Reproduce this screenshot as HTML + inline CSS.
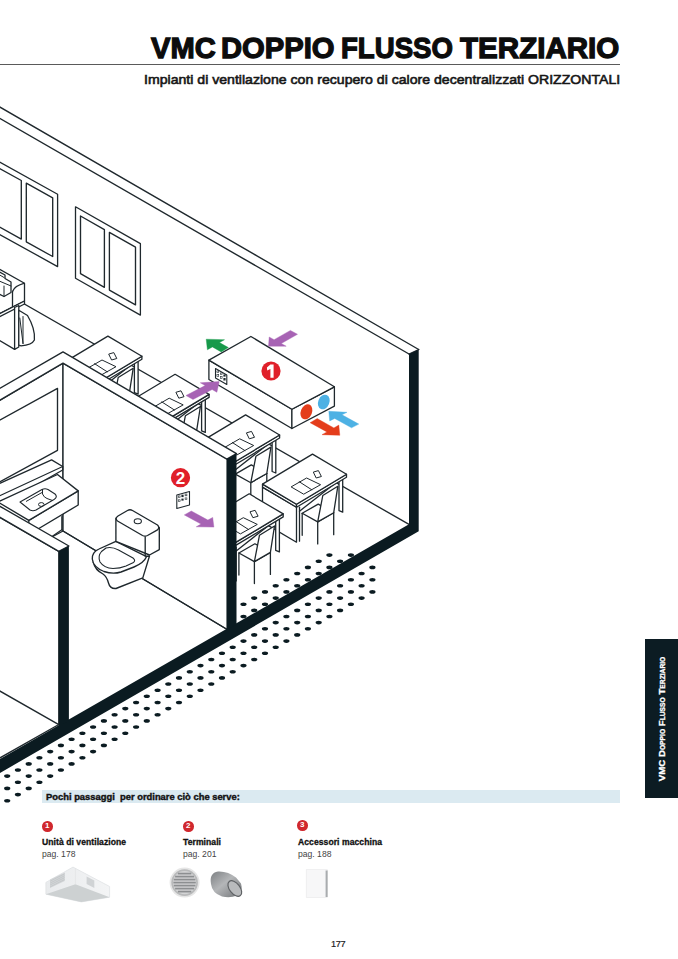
<!DOCTYPE html>
<html><head><meta charset="utf-8"><style>
html,body{margin:0;padding:0;background:#fff;}
body{width:678px;height:959px;position:relative;overflow:hidden;font-family:"Liberation Sans",sans-serif;color:#111;}
.abs{position:absolute;white-space:nowrap;}
#title{}
.tw{top:30.5px;font-size:30.2px;font-weight:bold;line-height:34px;color:#0c0c0c;-webkit-text-stroke:1.3px #0c0c0c;transform-origin:0 0;}
#rule{left:0;top:64px;width:620px;height:1px;background:#5a5a5a;}
#sub{left:144px;top:71.5px;font-size:13.4px;font-weight:normal;-webkit-text-stroke:0.6px #161616;line-height:16px;color:#161616;transform-origin:0 0;transform:scaleX(1.053);}
#bar{left:42px;top:790px;width:578px;height:13px;background:#dbeaf1;}
#bartxt{left:46px;top:791px;font-size:9.4px;font-weight:bold;line-height:11px;-webkit-text-stroke:0.4px #111;}
.num{position:absolute;width:10.5px;height:10.5px;border-radius:50%;background:#d0282e;color:#fff;font-size:8px;font-weight:bold;text-align:center;line-height:10px;}
.it{position:absolute;font-size:8.6px;font-weight:bold;line-height:10px;white-space:nowrap;-webkit-text-stroke:0.3px #111;letter-spacing:0.05px;}
.pg{position:absolute;font-size:8.6px;line-height:10px;color:#444;white-space:nowrap;}
#tab{left:645px;top:639px;width:33px;height:159px;background:#0c1c23;}
#tabtxt{position:absolute;left:17px;top:79.5px;transform:translate(-50%,-50%) rotate(-90deg);color:#fff;font-weight:bold;font-size:9.7px;line-height:11px;white-space:nowrap;-webkit-text-stroke:0.3px #fff;}
#tabtxt small{font-size:6.7px;}
#pnum{left:331px;top:938.5px;font-size:9.2px;color:#222;letter-spacing:-0.4px;-webkit-text-stroke:0.2px #222;}
</style></head><body>
<svg class="abs" style="left:0;top:0" width="678" height="959" viewBox="0 0 678 959">
<line x1="-2.0" y1="106.0" x2="418.7" y2="349.5" stroke="#1f282d" stroke-width="1.4" stroke-linecap="round"/>
<line x1="-2.0" y1="117.4" x2="409.0" y2="354.0" stroke="#1f282d" stroke-width="1.4" stroke-linecap="round"/>
<line x1="409.0" y1="354.0" x2="418.7" y2="349.5" stroke="#1f282d" stroke-width="1.3" stroke-linecap="round"/>
<polygon points="-8.0,157.8 57.6,194.2 57.6,266.6 -8.0,230.2" fill="none" stroke="#1f282d" stroke-width="1.3" stroke-linejoin="round"/>
<polygon points="-3.0,167.0 21.3,180.5 21.3,239.1 -3.0,225.6" fill="none" stroke="#1f282d" stroke-width="1.35" stroke-linejoin="round"/>
<polygon points="26.3,183.2 52.7,197.9 52.7,256.5 26.3,241.8" fill="none" stroke="#1f282d" stroke-width="1.35" stroke-linejoin="round"/>
<polygon points="75.5,206.8 140.4,243.6 140.4,315.1 75.5,278.3" fill="none" stroke="#1f282d" stroke-width="1.3" stroke-linejoin="round"/>
<polygon points="80.5,216.0 104.4,229.6 104.4,287.3 80.5,273.7" fill="none" stroke="#1f282d" stroke-width="1.35" stroke-linejoin="round"/>
<polygon points="109.4,232.4 135.5,247.2 135.5,304.9 109.4,290.1" fill="none" stroke="#1f282d" stroke-width="1.35" stroke-linejoin="round"/>
<line x1="0.0" y1="290.0" x2="409.0" y2="524.4" stroke="#1f282d" stroke-width="1.35" stroke-linecap="round"/>
<polygon points="-2.0,268.5 24.5,283.2 24.5,301.0 12.5,307.0 -2.0,314.5" fill="#fff" stroke="#1f282d" stroke-width="1.3" stroke-linejoin="round"/>
<line x1="12.5" y1="291.5" x2="12.5" y2="307.0" stroke="#1f282d" stroke-width="1.3" stroke-linecap="round"/>
<path d="M12.5,291.5 Q14.5,286 24.5,283.2" fill="none" stroke="#1f282d" stroke-width="1.3" stroke-linejoin="round"/>
<polygon points="-2.0,271.0 5.0,275.0 5.0,278.5 11.0,282.0 11.0,292.5 4.0,296.5 -2.0,293.5" fill="#fff" stroke="#1f282d" stroke-width="1.3" stroke-linejoin="round"/>
<line x1="-2.0" y1="280.5" x2="11.0" y2="286.0" stroke="#1f282d" stroke-width="1.0" stroke-linecap="round"/>
<line x1="4.0" y1="296.5" x2="4.0" y2="286.0" stroke="#1f282d" stroke-width="1.0" stroke-linecap="round"/>
<line x1="-2.0" y1="274.0" x2="4.0" y2="277.5" stroke="#1f282d" stroke-width="1.0" stroke-linecap="round"/>
<polygon points="-2.0,314.5 24.5,301.0 24.5,304.0 -2.0,317.5" fill="#fff" stroke="#1f282d" stroke-width="1.3" stroke-linejoin="round"/>
<polygon points="14.6,307.5 18.8,305.5 18.8,347.0 14.6,349.4" fill="#fff" stroke="#1f282d" stroke-width="1.3" stroke-linejoin="round"/>
<line x1="-2.0" y1="339.5" x2="14.6" y2="349.4" stroke="#1f282d" stroke-width="1.3" stroke-linecap="round"/>
<path d="M18.8,310.3 L27.5,315.5 Q35.5,329 34.4,340 Q32,345 21,345.8 L18.8,345 Z" fill="#fff" stroke="#1f282d" stroke-width="1.3" stroke-linejoin="round"/>
<line x1="19.8" y1="318.0" x2="23.0" y2="343.5" stroke="#1f282d" stroke-width="1.0" stroke-linecap="round"/>
<line x1="23.0" y1="316.5" x2="23.0" y2="343.5" stroke="#1f282d" stroke-width="1.0" stroke-linecap="round"/>
<polygon points="134.4,358.2 138.1,359.7 138.1,394.2 134.4,392.7" fill="#fff" stroke="#1f282d" stroke-width="1.3" stroke-linejoin="round"/>
<polygon points="57.9,369.1 91.9,389.2 91.9,424.2 57.9,404.1" fill="#fff" stroke="#1f282d" stroke-width="1.3" stroke-linejoin="round"/>
<line x1="94.9" y1="389.2" x2="94.9" y2="423.2" stroke="#1f282d" stroke-width="1.3" stroke-linecap="round"/>
<line x1="94.9" y1="393.2" x2="134.4" y2="362.2" stroke="#1f282d" stroke-width="1.3" stroke-linecap="round"/>
<line x1="97.6" y1="395.3" x2="97.6" y2="417.3" stroke="#1f282d" stroke-width="1.3" stroke-linecap="round"/>
<line x1="113.1" y1="403.9" x2="113.1" y2="425.9" stroke="#1f282d" stroke-width="1.3" stroke-linecap="round"/>
<line x1="129.1" y1="394.7" x2="129.1" y2="416.7" stroke="#1f282d" stroke-width="1.3" stroke-linecap="round"/>
<polygon points="97.6,395.3 113.6,386.1 129.1,394.7 113.1,403.9" fill="#fff" stroke="#1f282d" stroke-width="1.3" stroke-linejoin="round"/>
<polygon points="113.1,403.9 129.1,394.7 133.2,368.3 118.2,377.5" fill="#fff" stroke="#1f282d" stroke-width="1.3" stroke-linejoin="round"/>
<polygon points="57.9,366.1 91.9,386.2 91.9,389.2 57.9,369.1" fill="#fff" stroke="#1f282d" stroke-width="1.3" stroke-linejoin="round"/>
<polygon points="91.9,386.2 141.9,356.2 141.9,359.2 91.9,389.2" fill="#fff" stroke="#1f282d" stroke-width="1.3" stroke-linejoin="round"/>
<polygon points="57.9,366.1 107.9,336.1 141.9,356.2 91.9,386.2" fill="#fff" stroke="#1f282d" stroke-width="1.3" stroke-linejoin="round"/>
<polygon points="86.5,368.9 102.0,360.0 116.0,366.7 99.1,376.2" fill="#fff" stroke="#1f282d" stroke-width="1.0" stroke-linejoin="round"/>
<line x1="94.6" y1="363.7" x2="107.2" y2="371.8" stroke="#1f282d" stroke-width="1.0" stroke-linecap="round"/>
<polygon points="108.7,354.1 113.8,352.6 116.8,358.5 111.6,360.0" fill="#fff" stroke="#1f282d" stroke-width="1.0" stroke-linejoin="round"/>
<polygon points="201.6,396.4 205.3,397.9 205.3,432.4 201.6,430.9" fill="#fff" stroke="#1f282d" stroke-width="1.3" stroke-linejoin="round"/>
<polygon points="125.1,407.3 159.1,427.4 159.1,462.4 125.1,442.3" fill="#fff" stroke="#1f282d" stroke-width="1.3" stroke-linejoin="round"/>
<line x1="162.1" y1="427.4" x2="162.1" y2="461.4" stroke="#1f282d" stroke-width="1.3" stroke-linecap="round"/>
<line x1="162.1" y1="431.4" x2="201.6" y2="400.4" stroke="#1f282d" stroke-width="1.3" stroke-linecap="round"/>
<line x1="164.8" y1="433.5" x2="164.8" y2="455.5" stroke="#1f282d" stroke-width="1.3" stroke-linecap="round"/>
<line x1="180.3" y1="442.1" x2="180.3" y2="464.1" stroke="#1f282d" stroke-width="1.3" stroke-linecap="round"/>
<line x1="196.3" y1="432.9" x2="196.3" y2="454.9" stroke="#1f282d" stroke-width="1.3" stroke-linecap="round"/>
<polygon points="164.8,433.5 180.8,424.3 196.3,432.9 180.3,442.1" fill="#fff" stroke="#1f282d" stroke-width="1.3" stroke-linejoin="round"/>
<polygon points="180.3,442.1 196.3,432.9 200.4,406.5 185.4,415.7" fill="#fff" stroke="#1f282d" stroke-width="1.3" stroke-linejoin="round"/>
<polygon points="125.1,404.3 159.1,424.4 159.1,427.4 125.1,407.3" fill="#fff" stroke="#1f282d" stroke-width="1.3" stroke-linejoin="round"/>
<polygon points="159.1,424.4 209.1,394.4 209.1,397.4 159.1,427.4" fill="#fff" stroke="#1f282d" stroke-width="1.3" stroke-linejoin="round"/>
<polygon points="125.1,404.3 175.1,374.3 209.1,394.4 159.1,424.4" fill="#fff" stroke="#1f282d" stroke-width="1.3" stroke-linejoin="round"/>
<polygon points="153.7,407.1 169.2,398.2 183.2,404.9 166.3,414.4" fill="#fff" stroke="#1f282d" stroke-width="1.0" stroke-linejoin="round"/>
<line x1="161.8" y1="401.9" x2="174.4" y2="410.0" stroke="#1f282d" stroke-width="1.0" stroke-linecap="round"/>
<polygon points="175.9,392.3 181.0,390.8 184.0,396.7 178.8,398.2" fill="#fff" stroke="#1f282d" stroke-width="1.0" stroke-linejoin="round"/>
<polygon points="272.1,437.0 275.8,438.5 275.8,473.0 272.1,471.5" fill="#fff" stroke="#1f282d" stroke-width="1.3" stroke-linejoin="round"/>
<polygon points="195.6,447.9 229.6,468.0 229.6,503.0 195.6,482.9" fill="#fff" stroke="#1f282d" stroke-width="1.3" stroke-linejoin="round"/>
<line x1="232.6" y1="468.0" x2="232.6" y2="502.0" stroke="#1f282d" stroke-width="1.3" stroke-linecap="round"/>
<line x1="232.6" y1="472.0" x2="272.1" y2="441.0" stroke="#1f282d" stroke-width="1.3" stroke-linecap="round"/>
<line x1="235.3" y1="474.1" x2="235.3" y2="496.1" stroke="#1f282d" stroke-width="1.3" stroke-linecap="round"/>
<line x1="250.8" y1="482.7" x2="250.8" y2="504.7" stroke="#1f282d" stroke-width="1.3" stroke-linecap="round"/>
<line x1="266.8" y1="473.5" x2="266.8" y2="495.5" stroke="#1f282d" stroke-width="1.3" stroke-linecap="round"/>
<polygon points="235.3,474.1 251.3,464.9 266.8,473.5 250.8,482.7" fill="#fff" stroke="#1f282d" stroke-width="1.3" stroke-linejoin="round"/>
<polygon points="250.8,482.7 266.8,473.5 270.9,447.1 255.9,456.3" fill="#fff" stroke="#1f282d" stroke-width="1.3" stroke-linejoin="round"/>
<polygon points="195.6,444.9 229.6,465.0 229.6,468.0 195.6,447.9" fill="#fff" stroke="#1f282d" stroke-width="1.3" stroke-linejoin="round"/>
<polygon points="229.6,465.0 279.6,435.0 279.6,438.0 229.6,468.0" fill="#fff" stroke="#1f282d" stroke-width="1.3" stroke-linejoin="round"/>
<polygon points="195.6,444.9 245.6,414.9 279.6,435.0 229.6,465.0" fill="#fff" stroke="#1f282d" stroke-width="1.3" stroke-linejoin="round"/>
<polygon points="224.2,447.7 239.7,438.8 253.7,445.5 236.8,455.0" fill="#fff" stroke="#1f282d" stroke-width="1.0" stroke-linejoin="round"/>
<line x1="232.3" y1="442.5" x2="244.9" y2="450.6" stroke="#1f282d" stroke-width="1.0" stroke-linecap="round"/>
<polygon points="246.4,432.9 251.5,431.4 254.5,437.3 249.3,438.8" fill="#fff" stroke="#1f282d" stroke-width="1.0" stroke-linejoin="round"/>
<polygon points="339.0,476.2 342.7,477.7 342.7,512.2 339.0,510.7" fill="#fff" stroke="#1f282d" stroke-width="1.3" stroke-linejoin="round"/>
<polygon points="262.5,487.1 296.5,507.2 296.5,542.2 262.5,522.1" fill="#fff" stroke="#1f282d" stroke-width="1.3" stroke-linejoin="round"/>
<line x1="299.5" y1="507.2" x2="299.5" y2="541.2" stroke="#1f282d" stroke-width="1.3" stroke-linecap="round"/>
<line x1="299.5" y1="511.2" x2="339.0" y2="480.2" stroke="#1f282d" stroke-width="1.3" stroke-linecap="round"/>
<line x1="302.2" y1="513.3" x2="302.2" y2="535.3" stroke="#1f282d" stroke-width="1.3" stroke-linecap="round"/>
<line x1="317.7" y1="521.9" x2="317.7" y2="543.9" stroke="#1f282d" stroke-width="1.3" stroke-linecap="round"/>
<line x1="333.7" y1="512.7" x2="333.7" y2="534.7" stroke="#1f282d" stroke-width="1.3" stroke-linecap="round"/>
<polygon points="302.2,513.3 318.2,504.1 333.7,512.7 317.7,521.9" fill="#fff" stroke="#1f282d" stroke-width="1.3" stroke-linejoin="round"/>
<polygon points="317.7,521.9 333.7,512.7 337.8,486.3 322.8,495.5" fill="#fff" stroke="#1f282d" stroke-width="1.3" stroke-linejoin="round"/>
<polygon points="262.5,484.1 296.5,504.2 296.5,507.2 262.5,487.1" fill="#fff" stroke="#1f282d" stroke-width="1.3" stroke-linejoin="round"/>
<polygon points="296.5,504.2 346.5,474.2 346.5,477.2 296.5,507.2" fill="#fff" stroke="#1f282d" stroke-width="1.3" stroke-linejoin="round"/>
<polygon points="262.5,484.1 312.5,454.1 346.5,474.2 296.5,504.2" fill="#fff" stroke="#1f282d" stroke-width="1.3" stroke-linejoin="round"/>
<polygon points="291.1,486.9 306.6,478.0 320.6,484.7 303.7,494.2" fill="#fff" stroke="#1f282d" stroke-width="1.0" stroke-linejoin="round"/>
<line x1="299.2" y1="481.7" x2="311.8" y2="489.8" stroke="#1f282d" stroke-width="1.0" stroke-linecap="round"/>
<polygon points="313.3,472.1 318.4,470.6 321.4,476.5 316.2,478.0" fill="#fff" stroke="#1f282d" stroke-width="1.0" stroke-linejoin="round"/>
<polygon points="275.7,515.9 279.4,517.4 279.4,551.9 275.7,550.4" fill="#fff" stroke="#1f282d" stroke-width="1.3" stroke-linejoin="round"/>
<polygon points="199.2,526.8 233.2,546.9 233.2,581.9 199.2,561.8" fill="#fff" stroke="#1f282d" stroke-width="1.3" stroke-linejoin="round"/>
<line x1="236.2" y1="546.9" x2="236.2" y2="580.9" stroke="#1f282d" stroke-width="1.3" stroke-linecap="round"/>
<line x1="236.2" y1="550.9" x2="275.7" y2="519.9" stroke="#1f282d" stroke-width="1.3" stroke-linecap="round"/>
<line x1="238.9" y1="553.0" x2="238.9" y2="575.0" stroke="#1f282d" stroke-width="1.3" stroke-linecap="round"/>
<line x1="254.4" y1="561.6" x2="254.4" y2="583.6" stroke="#1f282d" stroke-width="1.3" stroke-linecap="round"/>
<line x1="270.4" y1="552.4" x2="270.4" y2="574.4" stroke="#1f282d" stroke-width="1.3" stroke-linecap="round"/>
<polygon points="238.9,553.0 254.9,543.8 270.4,552.4 254.4,561.6" fill="#fff" stroke="#1f282d" stroke-width="1.3" stroke-linejoin="round"/>
<polygon points="254.4,561.6 270.4,552.4 274.5,526.0 259.5,535.2" fill="#fff" stroke="#1f282d" stroke-width="1.3" stroke-linejoin="round"/>
<polygon points="199.2,523.8 233.2,543.9 233.2,546.9 199.2,526.8" fill="#fff" stroke="#1f282d" stroke-width="1.3" stroke-linejoin="round"/>
<polygon points="233.2,543.9 283.2,513.9 283.2,516.9 233.2,546.9" fill="#fff" stroke="#1f282d" stroke-width="1.3" stroke-linejoin="round"/>
<polygon points="199.2,523.8 249.2,493.8 283.2,513.9 233.2,543.9" fill="#fff" stroke="#1f282d" stroke-width="1.3" stroke-linejoin="round"/>
<polygon points="227.8,526.6 243.3,517.7 257.3,524.4 240.4,533.9" fill="#fff" stroke="#1f282d" stroke-width="1.0" stroke-linejoin="round"/>
<line x1="235.9" y1="521.4" x2="248.5" y2="529.5" stroke="#1f282d" stroke-width="1.0" stroke-linecap="round"/>
<polygon points="250.0,511.8 255.1,510.3 258.1,516.2 252.9,517.7" fill="#fff" stroke="#1f282d" stroke-width="1.0" stroke-linejoin="round"/>
<polygon points="208.9,360.1 291.9,409.2 291.9,428.5 208.9,379.5" fill="#fff" stroke="#1f282d" stroke-width="1.3" stroke-linejoin="round"/>
<polygon points="291.9,409.2 334.4,386.8 334.4,406.1 291.9,428.5" fill="#fff" stroke="#1f282d" stroke-width="1.3" stroke-linejoin="round"/>
<polygon points="208.9,360.1 250.9,336.5 334.4,386.8 291.9,409.2" fill="#fff" stroke="#1f282d" stroke-width="1.3" stroke-linejoin="round"/>
<polygon points="215.5,368.5 226.8,375.0 226.8,384.5 215.5,378.0" fill="#fff" stroke="#1f282d" stroke-width="1.1" stroke-linejoin="round"/>
<rect x="216.9" y="370.9" width="1.8" height="1.8" fill="none" stroke="#1f282d" stroke-width="0.6"/>
<rect x="216.9" y="374.5" width="1.8" height="1.8" fill="none" stroke="#1f282d" stroke-width="0.6"/>
<rect x="220.3" y="372.9" width="1.8" height="1.8" fill="none" stroke="#1f282d" stroke-width="0.6"/>
<rect x="220.3" y="376.5" width="1.8" height="1.8" fill="none" stroke="#1f282d" stroke-width="0.6"/>
<rect x="223.7" y="374.8" width="1.8" height="1.8" fill="none" stroke="#1f282d" stroke-width="0.6"/>
<rect x="223.7" y="378.4" width="1.8" height="1.8" fill="none" stroke="#1f282d" stroke-width="0.6"/>
<ellipse cx="306.4" cy="411.8" rx="5.6" ry="7.8" transform="rotate(22 306.4 411.8)" fill="#e43d1b"/>
<ellipse cx="323.8" cy="402" rx="5.6" ry="7.6" transform="rotate(22 323.8 402)" fill="#4db1e4"/>
<circle cx="271" cy="371" r="9.6" fill="#e0202a"/>
<path d="M270.4,364.6 L273.6,364.6 L273.6,377.8 L270.4,377.8 L270.4,368.9 L267.2,370.6 L266.9,367.6 Z" fill="#fff"/>
<polygon points="221.2,351.9 212.4,346.9 207.4,349.8 206.2,339.2 224.5,339.7 219.5,342.6 228.4,347.6" fill="#17994a" stroke="#17994a" stroke-width="0.4" stroke-linejoin="round"/>
<polygon points="290.4,330.4 274.1,339.7 269.2,337.0 268.5,346.2 286.2,346.2 281.3,343.5 297.5,334.3" fill="#a763b4" stroke="#a763b4" stroke-width="0.4" stroke-linejoin="round"/>
<polygon points="186.0,395.5 205.1,385.6 200.3,382.8 219.2,381.6 216.9,392.3 212.1,389.5 193.0,399.5" fill="#a763b4" stroke="#a763b4" stroke-width="0.4" stroke-linejoin="round"/>
<polygon points="310.1,422.7 326.9,431.9 322.0,434.7 339.8,435.3 338.8,425.1 333.9,427.9 317.2,418.6" fill="#e43d1b" stroke="#e43d1b" stroke-width="0.4" stroke-linejoin="round"/>
<polygon points="351.5,427.8 334.7,418.4 329.7,420.9 328.8,411.3 347.0,412.3 342.0,414.8 358.8,424.1" fill="#4db1e4" stroke="#4db1e4" stroke-width="0.4" stroke-linejoin="round"/>
<polygon points="-2.0,401.3 63.0,363.2 63.0,531.0 -2.0,566.0" fill="#fff" stroke="#1f282d" stroke-width="1.35" stroke-linejoin="round"/>
<polyline points="-2.0,421.0 57.5,388.4 57.5,450.3 -2.0,482.8" fill="none" stroke="#1f282d" stroke-width="1.35" stroke-linejoin="round" stroke-linecap="round"/>
<polygon points="63.0,363.2 227.2,458.9 227.2,629.5 63.0,531.0" fill="#fff" stroke="#1f282d" stroke-width="1.35" stroke-linejoin="round"/>
<polygon points="-2.0,389.5 63.0,351.9 236.5,453.7 226.8,459.1 63.0,363.2 -2.0,401.3" fill="#fff" stroke="#1f282d" stroke-width="1.35" stroke-linejoin="round"/>
<path d="M-2,484.2 L51.6,459.9 L62.7,466.5 L62.7,470 L10,500 Q3,503 -2,500 Z" fill="#fff" stroke="#1f282d" stroke-width="1.35" stroke-linejoin="round"/>
<line x1="-2.0" y1="496.5" x2="62.7" y2="466.5" stroke="#1f282d" stroke-width="1.1" stroke-linecap="round"/>
<polygon points="28.8,520.4 78.2,490.9 78.2,505.0 28.8,534.5" fill="#fff" stroke="#1f282d" stroke-width="1.35" stroke-linejoin="round"/>
<polygon points="-2.0,502.0 57.5,474.5 78.2,490.9 28.8,520.4" fill="#fff" stroke="#1f282d" stroke-width="1.35" stroke-linejoin="round"/>
<path d="M20,502 L42,489.5 Q45,488 48,489.5 L55,494 Q58,497 54,499.5 L36,510 Q33,511.5 30,510 Z" fill="#fff" stroke="#1f282d" stroke-width="1.1" stroke-linejoin="round"/>
<path d="M26,501.5 L42,492.5" fill="none" stroke="#1f282d" stroke-width="1.0" stroke-linejoin="round"/>
<path d="M42.5,489 L42.5,494 Q44,497.5 47,498.5 L52.5,500.5" fill="none" stroke="#1f282d" stroke-width="1.0" stroke-linejoin="round"/>
<ellipse cx="41.3" cy="504.5" rx="2.8" ry="1.9" fill="none" stroke="#1f282d" stroke-width="1"/>
<line x1="61.8" y1="516.5" x2="61.8" y2="529.8" stroke="#1f282d" stroke-width="1.2" stroke-linecap="round"/>
<line x1="52.0" y1="536.4" x2="61.8" y2="529.8" stroke="#1f282d" stroke-width="1.2" stroke-linecap="round"/>
<line x1="63.0" y1="531.0" x2="227.2" y2="629.5" stroke="#1f282d" stroke-width="1.35" stroke-linecap="round"/>
<path d="M93.3,562 Q95,570 103,574 Q107,577 108.5,583 Q110,589 116,588.5 L142.8,577.9 L149.5,556 Z" fill="#fff" stroke="#1f282d" stroke-width="1.35" stroke-linejoin="round"/>
<path d="M115.9,541.3 L146.6,556.6 Q144,563 134,567 L121,572 Q113,574.5 104,571.5 Q93,567 92.3,559 Q92,552 99,549 Z" fill="#fff" stroke="#1f282d" stroke-width="1.35" stroke-linejoin="round"/>
<path d="M101.5,551.5 Q97.5,556 100,562 Q104,568 113,568.5 Q120,568.5 126,566 L133.5,562.5 Q136,560.5 133,558 L118.5,550 Q112,546.5 106,548 Z" fill="#fff" stroke="#1f282d" stroke-width="1.1" stroke-linejoin="round"/>
<polygon points="115.9,518.2 145.2,535.5 159.3,527.5 159.3,549.6 149.5,555.0 115.9,541.3" fill="#fff" stroke="#1f282d" stroke-width="1.35" stroke-linejoin="round"/>
<path d="M118,516 L127.5,510.5 Q130,509 132.5,510.5 L157.5,525 Q160,527.5 157.5,529.8 L147.5,535.5 Q145,536.8 142.5,535.5 L117.5,521 Q114.5,518.5 118,516 Z" fill="#fff" stroke="#1f282d" stroke-width="1.35" stroke-linejoin="round"/>
<line x1="145.2" y1="537.0" x2="145.2" y2="556.0" stroke="#1f282d" stroke-width="1.35" stroke-linecap="round"/>
<ellipse cx="137.8" cy="521.3" rx="3.6" ry="2.5" fill="#fff" stroke="#1f282d" stroke-width="1.1"/>
<circle cx="180.5" cy="477.7" r="9.6" fill="#e0202a"/>
<text x="180.6" y="483.9" font-family="Liberation Sans" font-weight="bold" font-size="17" fill="#fff" text-anchor="middle">2</text>
<polygon points="176.8,495.0 189.5,491.5 189.5,505.0 176.8,508.5" fill="#fff" stroke="#1f282d" stroke-width="1.1" stroke-linejoin="round"/>
<rect x="178.3" y="495.9" width="1.8" height="1.8" fill="none" stroke="#1f282d" stroke-width="0.6"/>
<rect x="178.3" y="499.8" width="1.8" height="1.8" fill="none" stroke="#1f282d" stroke-width="0.6"/>
<rect x="181.7" y="495.0" width="1.8" height="1.8" fill="none" stroke="#1f282d" stroke-width="0.6"/>
<rect x="181.7" y="498.9" width="1.8" height="1.8" fill="none" stroke="#1f282d" stroke-width="0.6"/>
<rect x="185.1" y="494.0" width="1.8" height="1.8" fill="none" stroke="#1f282d" stroke-width="0.6"/>
<rect x="185.1" y="497.9" width="1.8" height="1.8" fill="none" stroke="#1f282d" stroke-width="0.6"/>
<polygon points="184.3,514.9 201.0,524.1 196.2,526.8 213.9,527.1 212.7,517.4 207.9,520.1 191.3,511.0" fill="#a763b4" stroke="#a763b4" stroke-width="0.4" stroke-linejoin="round"/>
<polygon points="-2.0,516.2 58.8,551.3 58.8,724.5 -2.0,759.0" fill="#fff" stroke="#1f282d" stroke-width="1.35" stroke-linejoin="round"/>
<polygon points="-2.0,505.2 68.9,546.0 58.8,551.3 -2.0,516.2" fill="#fff" stroke="#1f282d" stroke-width="1.35" stroke-linejoin="round"/>
<line x1="-2.0" y1="690.0" x2="58.8" y2="724.7" stroke="#1f282d" stroke-width="1.35" stroke-linecap="round"/>
<polygon points="409.0,353.9 418.7,349.5 418.7,531.3 -2.0,774.1 -2.0,760.1 409.0,524.3" fill="#0b1b21" stroke="none" stroke-width="0" stroke-linejoin="round"/>
<polygon points="226.8,459.1 236.5,453.7 236.5,624.3 226.8,629.8" fill="#0b1b21" stroke="none" stroke-width="0" stroke-linejoin="round"/>
<polygon points="58.8,551.3 68.9,546.0 68.9,720.4 58.8,726.2" fill="#0b1b21" stroke="none" stroke-width="0" stroke-linejoin="round"/>
<ellipse cx="243.5" cy="604.2" rx="3.1" ry="1.8" fill="#0b1b21"/>
<ellipse cx="254.2" cy="598.1" rx="3.1" ry="1.8" fill="#0b1b21"/>
<ellipse cx="265.0" cy="591.9" rx="3.1" ry="1.8" fill="#0b1b21"/>
<ellipse cx="275.7" cy="585.8" rx="3.1" ry="1.8" fill="#0b1b21"/>
<ellipse cx="286.4" cy="579.7" rx="3.1" ry="1.8" fill="#0b1b21"/>
<ellipse cx="297.2" cy="573.5" rx="3.1" ry="1.8" fill="#0b1b21"/>
<ellipse cx="307.9" cy="567.4" rx="3.1" ry="1.8" fill="#0b1b21"/>
<ellipse cx="318.7" cy="561.2" rx="3.1" ry="1.8" fill="#0b1b21"/>
<ellipse cx="329.4" cy="555.1" rx="3.1" ry="1.8" fill="#0b1b21"/>
<ellipse cx="243.5" cy="616.5" rx="3.1" ry="1.8" fill="#0b1b21"/>
<ellipse cx="254.2" cy="610.4" rx="3.1" ry="1.8" fill="#0b1b21"/>
<ellipse cx="265.0" cy="604.2" rx="3.1" ry="1.8" fill="#0b1b21"/>
<ellipse cx="275.7" cy="598.1" rx="3.1" ry="1.8" fill="#0b1b21"/>
<ellipse cx="286.4" cy="591.9" rx="3.1" ry="1.8" fill="#0b1b21"/>
<ellipse cx="297.2" cy="585.8" rx="3.1" ry="1.8" fill="#0b1b21"/>
<ellipse cx="307.9" cy="579.7" rx="3.1" ry="1.8" fill="#0b1b21"/>
<ellipse cx="318.7" cy="573.5" rx="3.1" ry="1.8" fill="#0b1b21"/>
<ellipse cx="329.4" cy="567.4" rx="3.1" ry="1.8" fill="#0b1b21"/>
<ellipse cx="340.1" cy="561.2" rx="3.1" ry="1.8" fill="#0b1b21"/>
<ellipse cx="350.9" cy="555.1" rx="3.1" ry="1.8" fill="#0b1b21"/>
<ellipse cx="-3.5" cy="782.3" rx="3.1" ry="1.8" fill="#0b1b21"/>
<ellipse cx="7.2" cy="776.1" rx="3.1" ry="1.8" fill="#0b1b21"/>
<ellipse cx="17.9" cy="770.0" rx="3.1" ry="1.8" fill="#0b1b21"/>
<ellipse cx="28.7" cy="763.9" rx="3.1" ry="1.8" fill="#0b1b21"/>
<ellipse cx="39.4" cy="757.7" rx="3.1" ry="1.8" fill="#0b1b21"/>
<ellipse cx="50.2" cy="751.6" rx="3.1" ry="1.8" fill="#0b1b21"/>
<ellipse cx="60.9" cy="745.4" rx="3.1" ry="1.8" fill="#0b1b21"/>
<ellipse cx="71.6" cy="739.3" rx="3.1" ry="1.8" fill="#0b1b21"/>
<ellipse cx="82.4" cy="733.2" rx="3.1" ry="1.8" fill="#0b1b21"/>
<ellipse cx="93.1" cy="727.0" rx="3.1" ry="1.8" fill="#0b1b21"/>
<ellipse cx="103.9" cy="720.9" rx="3.1" ry="1.8" fill="#0b1b21"/>
<ellipse cx="114.6" cy="714.7" rx="3.1" ry="1.8" fill="#0b1b21"/>
<ellipse cx="125.3" cy="708.6" rx="3.1" ry="1.8" fill="#0b1b21"/>
<ellipse cx="136.1" cy="702.5" rx="3.1" ry="1.8" fill="#0b1b21"/>
<ellipse cx="146.8" cy="696.3" rx="3.1" ry="1.8" fill="#0b1b21"/>
<ellipse cx="157.6" cy="690.2" rx="3.1" ry="1.8" fill="#0b1b21"/>
<ellipse cx="168.3" cy="684.0" rx="3.1" ry="1.8" fill="#0b1b21"/>
<ellipse cx="179.0" cy="677.9" rx="3.1" ry="1.8" fill="#0b1b21"/>
<ellipse cx="189.8" cy="671.8" rx="3.1" ry="1.8" fill="#0b1b21"/>
<ellipse cx="200.5" cy="665.6" rx="3.1" ry="1.8" fill="#0b1b21"/>
<ellipse cx="211.3" cy="659.5" rx="3.1" ry="1.8" fill="#0b1b21"/>
<ellipse cx="222.0" cy="653.3" rx="3.1" ry="1.8" fill="#0b1b21"/>
<ellipse cx="232.7" cy="647.2" rx="3.1" ry="1.8" fill="#0b1b21"/>
<ellipse cx="243.5" cy="641.1" rx="3.1" ry="1.8" fill="#0b1b21"/>
<ellipse cx="254.2" cy="634.9" rx="3.1" ry="1.8" fill="#0b1b21"/>
<ellipse cx="265.0" cy="628.8" rx="3.1" ry="1.8" fill="#0b1b21"/>
<ellipse cx="275.7" cy="622.6" rx="3.1" ry="1.8" fill="#0b1b21"/>
<ellipse cx="286.4" cy="616.5" rx="3.1" ry="1.8" fill="#0b1b21"/>
<ellipse cx="297.2" cy="610.4" rx="3.1" ry="1.8" fill="#0b1b21"/>
<ellipse cx="307.9" cy="604.2" rx="3.1" ry="1.8" fill="#0b1b21"/>
<ellipse cx="318.7" cy="598.1" rx="3.1" ry="1.8" fill="#0b1b21"/>
<ellipse cx="329.4" cy="591.9" rx="3.1" ry="1.8" fill="#0b1b21"/>
<ellipse cx="340.1" cy="585.8" rx="3.1" ry="1.8" fill="#0b1b21"/>
<ellipse cx="350.9" cy="579.7" rx="3.1" ry="1.8" fill="#0b1b21"/>
<ellipse cx="361.6" cy="573.5" rx="3.1" ry="1.8" fill="#0b1b21"/>
<ellipse cx="372.4" cy="567.4" rx="3.1" ry="1.8" fill="#0b1b21"/>
<ellipse cx="-3.5" cy="794.6" rx="3.1" ry="1.8" fill="#0b1b21"/>
<ellipse cx="7.2" cy="788.4" rx="3.1" ry="1.8" fill="#0b1b21"/>
<ellipse cx="17.9" cy="782.3" rx="3.1" ry="1.8" fill="#0b1b21"/>
<ellipse cx="28.7" cy="776.1" rx="3.1" ry="1.8" fill="#0b1b21"/>
<ellipse cx="39.4" cy="770.0" rx="3.1" ry="1.8" fill="#0b1b21"/>
<ellipse cx="50.2" cy="763.9" rx="3.1" ry="1.8" fill="#0b1b21"/>
<ellipse cx="60.9" cy="757.7" rx="3.1" ry="1.8" fill="#0b1b21"/>
<ellipse cx="71.6" cy="751.6" rx="3.1" ry="1.8" fill="#0b1b21"/>
<ellipse cx="82.4" cy="745.4" rx="3.1" ry="1.8" fill="#0b1b21"/>
<ellipse cx="93.1" cy="739.3" rx="3.1" ry="1.8" fill="#0b1b21"/>
<ellipse cx="103.9" cy="733.2" rx="3.1" ry="1.8" fill="#0b1b21"/>
<ellipse cx="114.6" cy="727.0" rx="3.1" ry="1.8" fill="#0b1b21"/>
<ellipse cx="125.3" cy="720.9" rx="3.1" ry="1.8" fill="#0b1b21"/>
<ellipse cx="136.1" cy="714.7" rx="3.1" ry="1.8" fill="#0b1b21"/>
<ellipse cx="146.8" cy="708.6" rx="3.1" ry="1.8" fill="#0b1b21"/>
<ellipse cx="157.6" cy="702.5" rx="3.1" ry="1.8" fill="#0b1b21"/>
<ellipse cx="168.3" cy="696.3" rx="3.1" ry="1.8" fill="#0b1b21"/>
<ellipse cx="179.0" cy="690.2" rx="3.1" ry="1.8" fill="#0b1b21"/>
<ellipse cx="189.8" cy="684.0" rx="3.1" ry="1.8" fill="#0b1b21"/>
<ellipse cx="200.5" cy="677.9" rx="3.1" ry="1.8" fill="#0b1b21"/>
<ellipse cx="211.3" cy="671.8" rx="3.1" ry="1.8" fill="#0b1b21"/>
<ellipse cx="222.0" cy="665.6" rx="3.1" ry="1.8" fill="#0b1b21"/>
<ellipse cx="232.7" cy="659.5" rx="3.1" ry="1.8" fill="#0b1b21"/>
<ellipse cx="243.5" cy="653.3" rx="3.1" ry="1.8" fill="#0b1b21"/>
<ellipse cx="254.2" cy="647.2" rx="3.1" ry="1.8" fill="#0b1b21"/>
<ellipse cx="265.0" cy="641.1" rx="3.1" ry="1.8" fill="#0b1b21"/>
<ellipse cx="275.7" cy="634.9" rx="3.1" ry="1.8" fill="#0b1b21"/>
<ellipse cx="286.4" cy="628.8" rx="3.1" ry="1.8" fill="#0b1b21"/>
<ellipse cx="297.2" cy="622.6" rx="3.1" ry="1.8" fill="#0b1b21"/>
<ellipse cx="307.9" cy="616.5" rx="3.1" ry="1.8" fill="#0b1b21"/>
<ellipse cx="318.7" cy="610.4" rx="3.1" ry="1.8" fill="#0b1b21"/>
<ellipse cx="329.4" cy="604.2" rx="3.1" ry="1.8" fill="#0b1b21"/>
<ellipse cx="340.1" cy="598.1" rx="3.1" ry="1.8" fill="#0b1b21"/>
<ellipse cx="350.9" cy="591.9" rx="3.1" ry="1.8" fill="#0b1b21"/>
<ellipse cx="361.6" cy="585.8" rx="3.1" ry="1.8" fill="#0b1b21"/>
<ellipse cx="372.4" cy="579.7" rx="3.1" ry="1.8" fill="#0b1b21"/>
<ellipse cx="-3.5" cy="806.8" rx="3.1" ry="1.8" fill="#0b1b21"/>
<ellipse cx="7.2" cy="800.7" rx="3.1" ry="1.8" fill="#0b1b21"/>
<ellipse cx="17.9" cy="794.6" rx="3.1" ry="1.8" fill="#0b1b21"/>
<ellipse cx="28.7" cy="788.4" rx="3.1" ry="1.8" fill="#0b1b21"/>
<ellipse cx="39.4" cy="782.3" rx="3.1" ry="1.8" fill="#0b1b21"/>
<ellipse cx="50.2" cy="776.1" rx="3.1" ry="1.8" fill="#0b1b21"/>
<ellipse cx="60.9" cy="770.0" rx="3.1" ry="1.8" fill="#0b1b21"/>
<ellipse cx="71.6" cy="763.9" rx="3.1" ry="1.8" fill="#0b1b21"/>
<ellipse cx="82.4" cy="757.7" rx="3.1" ry="1.8" fill="#0b1b21"/>
<ellipse cx="93.1" cy="751.6" rx="3.1" ry="1.8" fill="#0b1b21"/>
<ellipse cx="103.9" cy="745.4" rx="3.1" ry="1.8" fill="#0b1b21"/>
<ellipse cx="114.6" cy="739.3" rx="3.1" ry="1.8" fill="#0b1b21"/>
<ellipse cx="125.3" cy="733.2" rx="3.1" ry="1.8" fill="#0b1b21"/>
<ellipse cx="136.1" cy="727.0" rx="3.1" ry="1.8" fill="#0b1b21"/>
<ellipse cx="146.8" cy="720.9" rx="3.1" ry="1.8" fill="#0b1b21"/>
<ellipse cx="157.6" cy="714.7" rx="3.1" ry="1.8" fill="#0b1b21"/>
<ellipse cx="168.3" cy="708.6" rx="3.1" ry="1.8" fill="#0b1b21"/>
<ellipse cx="179.0" cy="702.5" rx="3.1" ry="1.8" fill="#0b1b21"/>
<ellipse cx="189.8" cy="696.3" rx="3.1" ry="1.8" fill="#0b1b21"/>
<ellipse cx="200.5" cy="690.2" rx="3.1" ry="1.8" fill="#0b1b21"/>
<ellipse cx="211.3" cy="684.0" rx="3.1" ry="1.8" fill="#0b1b21"/>
<ellipse cx="222.0" cy="677.9" rx="3.1" ry="1.8" fill="#0b1b21"/>
<ellipse cx="232.7" cy="671.8" rx="3.1" ry="1.8" fill="#0b1b21"/>
<ellipse cx="243.5" cy="665.6" rx="3.1" ry="1.8" fill="#0b1b21"/>
<ellipse cx="254.2" cy="659.5" rx="3.1" ry="1.8" fill="#0b1b21"/>
<ellipse cx="265.0" cy="653.3" rx="3.1" ry="1.8" fill="#0b1b21"/>
<ellipse cx="275.7" cy="647.2" rx="3.1" ry="1.8" fill="#0b1b21"/>
<ellipse cx="286.4" cy="641.1" rx="3.1" ry="1.8" fill="#0b1b21"/>
<ellipse cx="297.2" cy="634.9" rx="3.1" ry="1.8" fill="#0b1b21"/>
<ellipse cx="307.9" cy="628.8" rx="3.1" ry="1.8" fill="#0b1b21"/>
<ellipse cx="318.7" cy="622.6" rx="3.1" ry="1.8" fill="#0b1b21"/>
<ellipse cx="329.4" cy="616.5" rx="3.1" ry="1.8" fill="#0b1b21"/>
<ellipse cx="340.1" cy="610.4" rx="3.1" ry="1.8" fill="#0b1b21"/>
<ellipse cx="350.9" cy="604.2" rx="3.1" ry="1.8" fill="#0b1b21"/>
<ellipse cx="361.6" cy="598.1" rx="3.1" ry="1.8" fill="#0b1b21"/>
<ellipse cx="372.4" cy="591.9" rx="3.1" ry="1.8" fill="#0b1b21"/>
<defs>
<linearGradient id="gside" x1="0" y1="0" x2="1" y2="0"><stop offset="0" stop-color="#e9ebed"/><stop offset="1" stop-color="#f3f4f5"/></linearGradient>
<radialGradient id="ggr" cx="0.5" cy="0.5" r="0.5"><stop offset="0.75" stop-color="#9a9c9e"/><stop offset="0.88" stop-color="#d9dadb"/><stop offset="1" stop-color="#eeeeee"/></radialGradient>
<linearGradient id="ghood" x1="0" y1="0" x2="1" y2="1"><stop offset="0" stop-color="#7d8083"/><stop offset="0.45" stop-color="#b4b6b8"/><stop offset="1" stop-color="#6f7275"/></linearGradient>
</defs>
<polygon points="45.9,882.4 73.0,867.1 109.6,886.5 109.6,897.2 81.3,901.9 45.9,894.2" fill="url(#gside)" stroke="#e0e2e4" stroke-width="0.8" stroke-linejoin="round"/>
<polygon points="45.9,894.2 75.4,884.2 109.6,897.2 81.3,901.9" fill="#cdd1d2" stroke="none" stroke-width="0" stroke-linejoin="round"/>
<polygon points="50.0,879.5 64.8,872.5 64.8,881.0 50.0,888.0" fill="#d2d5d7" stroke="none" stroke-width="0" stroke-linejoin="round"/>
<line x1="50.5" y1="881.0" x2="64.3" y2="874.0" stroke="#b9bcbf" stroke-width="0.5" stroke-linecap="round"/>
<line x1="50.5" y1="882.9" x2="64.3" y2="875.9" stroke="#b9bcbf" stroke-width="0.5" stroke-linecap="round"/>
<line x1="50.5" y1="884.8" x2="64.3" y2="877.8" stroke="#b9bcbf" stroke-width="0.5" stroke-linecap="round"/>
<line x1="50.5" y1="886.7" x2="64.3" y2="879.7" stroke="#b9bcbf" stroke-width="0.5" stroke-linecap="round"/>
<polygon points="86.6,876.5 94.3,880.5 94.3,888.0 86.6,884.0" fill="#d0d3d5" stroke="none" stroke-width="0" stroke-linejoin="round"/>
<line x1="75.4" y1="868.5" x2="75.4" y2="884.2" stroke="#dfe1e3" stroke-width="0.6" stroke-linecap="round"/>
<circle cx="184.6" cy="882.6" r="15" fill="#e6e6e6"/>
<circle cx="184.6" cy="882.6" r="13.3" fill="#b9babb"/>
<circle cx="184.6" cy="882.6" r="11.6" fill="#d3d4d5"/>
<line x1="177.9" y1="873.6" x2="191.3" y2="873.6" stroke="#8d8f91" stroke-width="1.7"/>
<line x1="175.1" y1="876.6" x2="194.1" y2="876.6" stroke="#8d8f91" stroke-width="1.7"/>
<line x1="173.8" y1="879.6" x2="195.4" y2="879.6" stroke="#8d8f91" stroke-width="1.7"/>
<line x1="173.4" y1="882.6" x2="195.8" y2="882.6" stroke="#8d8f91" stroke-width="1.7"/>
<line x1="173.8" y1="885.6" x2="195.4" y2="885.6" stroke="#8d8f91" stroke-width="1.7"/>
<line x1="175.1" y1="888.6" x2="194.1" y2="888.6" stroke="#8d8f91" stroke-width="1.7"/>
<line x1="177.9" y1="891.6" x2="191.3" y2="891.6" stroke="#8d8f91" stroke-width="1.7"/>
<path d="M211,884 Q209,873 218,871.5 Q228,871 236,877.5 L241,883.5 Q243.5,891 237,895.5 Q230,898.5 222,896.5 Q212,893 211,884 Z" fill="url(#ghood)" stroke="none" stroke-width="0" stroke-linejoin="round"/>
<ellipse cx="234.8" cy="888.5" rx="5.2" ry="9" transform="rotate(-38 234.8 888.5)" fill="#b9bbbd" stroke="#5f6265" stroke-width="1.2"/>
<rect x="306.2" y="869.7" width="21.3" height="27.8" fill="#f7f7f8" stroke="#e8e8ea" stroke-width="0.6"/>
<rect x="325.6" y="870.5" width="2" height="26.5" fill="#a9acaf"/>
</svg>
<div class="abs tw" style="left:151.00px;transform:scaleX(0.9652)">VMC</div><div class="abs tw" style="left:221.43px;transform:scaleX(0.9670)">DOPPIO</div><div class="abs tw" style="left:340.59px;transform:scaleX(0.9142)">FLUSSO</div><div class="abs tw" style="left:460.30px;transform:scaleX(0.9795)">TERZIARIO</div>
<div id="rule" class="abs"></div>
<div id="sub" class="abs">Impianti di ventilazione con recupero di calore decentralizzati ORIZZONTALI</div>
<div id="bar" class="abs"></div>
<div id="bartxt" class="abs">Pochi passaggi&nbsp; per ordinare ciò che serve:</div>
<div class="num" style="left:42px;top:821px">1</div>
<div class="it" style="left:42px;top:837px">Unità di ventilazione</div>
<div class="pg" style="left:42px;top:849px">pag. 178</div>
<div class="num" style="left:183px;top:821px">2</div>
<div class="it" style="left:183px;top:837px">Terminali</div>
<div class="pg" style="left:183px;top:849px">pag. 201</div>
<div class="num" style="left:297px;top:820px">3</div>
<div class="it" style="left:298px;top:837px">Accessori macchina</div>
<div class="pg" style="left:298px;top:849px">pag. 188</div>
<div id="pnum" class="abs">177</div>
<div id="tab" class="abs"><div id="tabtxt">VMC D<small>OPPIO</small> F<small>LUSSO</small> T<small>ERZIARIO</small></div></div>
</body></html>
